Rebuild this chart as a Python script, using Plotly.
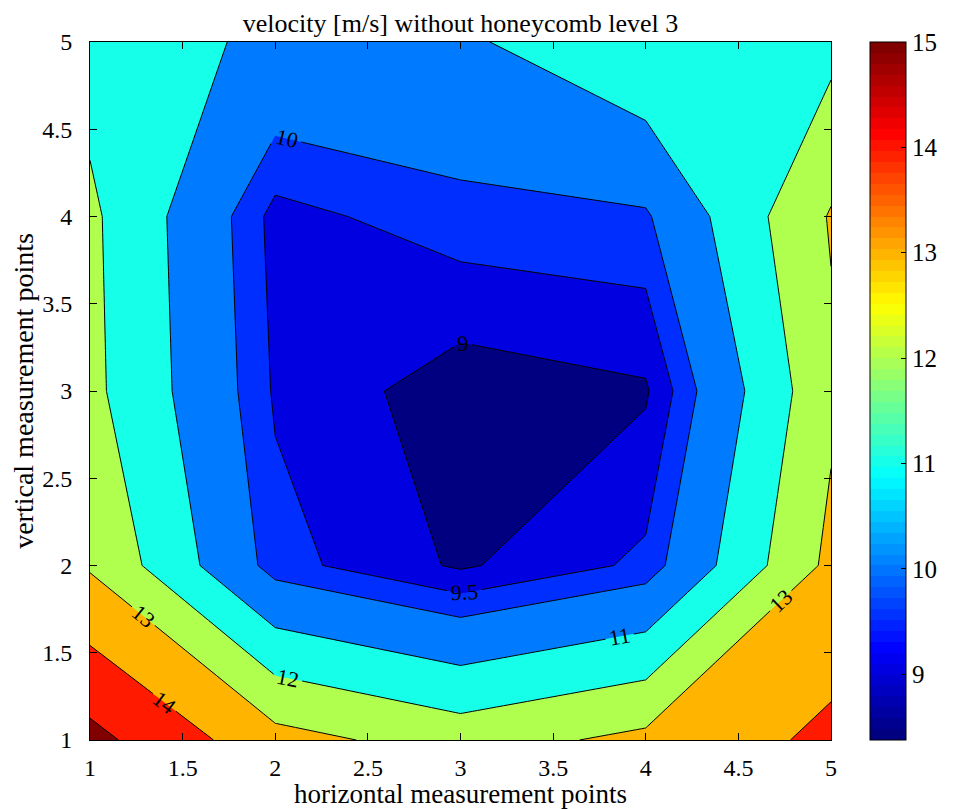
import plotly.graph_objects as go

# grid of measurement points
x_points = [1, 2, 3, 4, 5]
y_points = [1, 2, 3, 4, 5]

# velocity [m/s] per row (y = 1 ... 5), columns x = 1 ... 5
row_y1 = [15.30, 13.35, 12.55, 13.25, 14.21]
row_y2 = [12.90, 9.70, 8.92, 9.62, 13.25]
row_y3 = [12.25, 9.43, 8.70, 8.93, 12.80]
row_y4 = [12.19, 9.32, 9.78, 9.90, 13.08]
row_y5 = [11.60, 10.79, 10.83, 11.90, 11.70]

# contour levels drawn / labelled
fine_levels = [9, 9.5, 10]
coarse_levels = [11, 12, 13, 14, 15]

cmin, cmax = 8.375, 15.0
tick_vals = [9, 10, 11, 12, 13, 14, 15]

z = [row_y1, row_y2, row_y3, row_y4, row_y5]

FONT = "Liberation Serif"

# page body has an 8px margin -> figure is drawn offset by 8px
W, H = 956, 801
L, T = 82, 34
PW, PH = 741, 698
R, B = W - L - PW, H - T - PH


def jet(t):
    t = min(max(t, 0.0), 1.0)
    r = min(max(1.5 - abs(4 * t - 3), 0), 1)
    g = min(max(1.5 - abs(4 * t - 2), 0), 1)
    b = min(max(1.5 - abs(4 * t - 1), 0), 1)
    return "rgb(%d,%d,%d)" % (round(r * 255), round(g * 255), round(b * 255))


def jet_at(v):
    return jet((v - cmin) / (cmax - cmin))


# MATLAB-like 64-step jet colorscale for the colorbar
N = 64
jet_scale = []
for i in range(N):
    c = jet(i / (N - 1))
    jet_scale.append([i / N, c])
    jet_scale.append([(i + 1) / N, c])

# fill trace uses uniform 0.5 steps; each band gets the colour of its
# lower MATLAB level (9, 9.5, 10, 11, 12, ...)
fill_start, fill_end, fill_size = 9.0, 15.0, 0.5
n_levels = int(round((fill_end - fill_start) / fill_size)) + 1
all_levels = sorted(fine_levels + coarse_levels)
band_scale = []
for k in range(n_levels + 1):
    lower = fill_start + fill_size * (k - 1)
    if k == 0:
        col = jet(0.0)
    else:
        lvl = max(l for l in all_levels if l <= lower + 1e-9)
        col = jet_at(lvl)
    band_scale.append([k / n_levels, col])

fig = go.Figure()

fig.add_trace(go.Contour(
    x=x_points, y=y_points, z=z,
    autocontour=False,
    contours=dict(start=fill_start, end=fill_end, size=fill_size,
                  coloring="fill", showlines=False),
    colorscale=band_scale,
    line=dict(width=0, smoothing=0),
    showscale=False,
    hoverinfo="skip",
))

label_font = dict(family=FONT, size=22, color="black")

fig.add_trace(go.Contour(
    x=x_points, y=y_points, z=z,
    autocontour=False,
    contours=dict(start=fine_levels[0], end=fine_levels[-1], size=0.5,
                  coloring="none", showlabels=True, labelfont=label_font),
    line=dict(color="black", width=1, smoothing=0),
    showscale=False,
    hoverinfo="skip",
))

fig.add_trace(go.Contour(
    x=x_points, y=y_points, z=z,
    autocontour=False,
    contours=dict(start=coarse_levels[0], end=coarse_levels[-1], size=1,
                  coloring="none", showlabels=True, labelfont=label_font),
    line=dict(color="black", width=1, smoothing=0),
    showscale=False,
    hoverinfo="skip",
))

# colorbar holder
fig.add_trace(go.Scatter(
    x=[3], y=[3], mode="markers",
    marker=dict(size=1, opacity=0, color=[cmin], cmin=cmin, cmax=cmax,
                colorscale=jet_scale, showscale=True,
                colorbar=dict(
                    x=(862 - L) / PW, xanchor="left", xpad=0,
                    y=0.5, yanchor="middle", ypad=0,
                    len=1, lenmode="fraction",
                    thickness=36, thicknessmode="pixels",
                    outlinecolor="black", outlinewidth=1,
                    tickvals=tick_vals, ticks="inside", ticklen=5,
                    tickcolor="black",
                    tickfont=dict(family=FONT, size=25, color="black"),
                )),
    showlegend=False, hoverinfo="skip",
))

axis_common = dict(
    range=[1, 5], dtick=0.5, tick0=1,
    ticks="inside", ticklen=7, tickcolor="black",
    showline=True, linecolor="black", linewidth=1, mirror="allticks",
    showgrid=False, zeroline=False, automargin=False,
    tickfont=dict(family=FONT, size=24, color="black"),
)

fig.update_layout(
    width=W, height=H,
    margin=dict(l=L, r=R, t=T, b=B),
    paper_bgcolor="white", plot_bgcolor="white",
    title=dict(text="velocity [m/s] without honeycomb level 3",
               x=(L + PW / 2) / W, xanchor="center",
               y=1 - 15 / H, yanchor="middle",
               font=dict(family=FONT, size=26, color="black")),
    xaxis=dict(axis_common, ticklabelstandoff=6,
               title=dict(text="horizontal measurement points",
                          font=dict(family=FONT, size=27, color="black"),
                          standoff=4)),
    yaxis=dict(axis_common, ticklabelstandoff=12,
               title=dict(text="vertical measurement points",
                          font=dict(family=FONT, size=28, color="black"),
                          standoff=10)),
    showlegend=False,
)

fig.write_html("out.html")
